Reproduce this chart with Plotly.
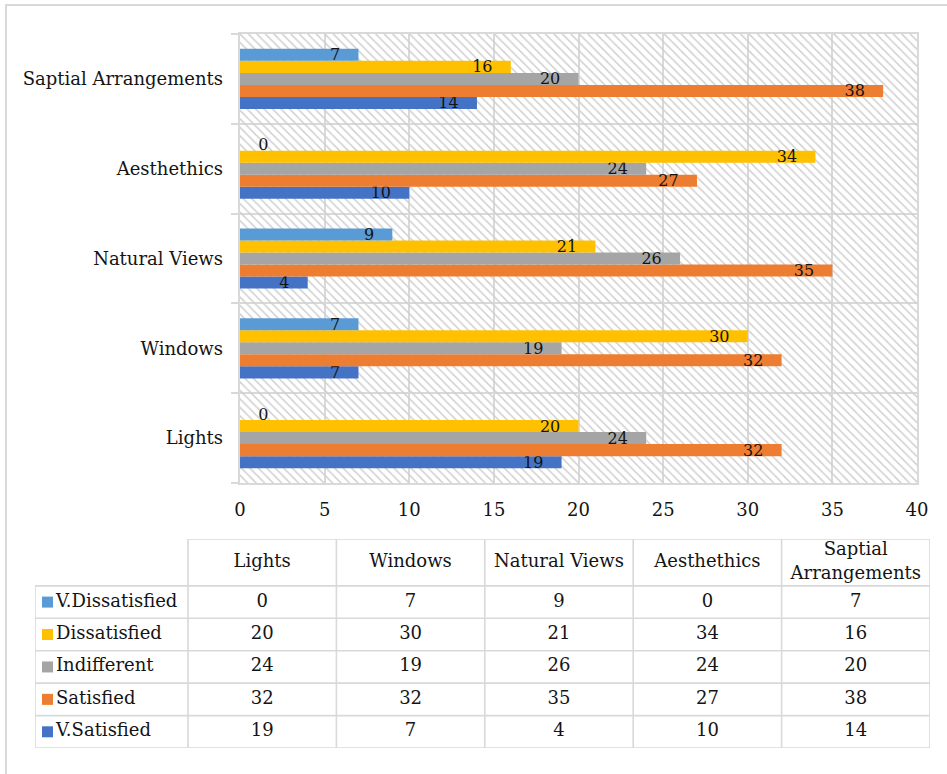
import plotly.graph_objects as go

# ---- data ----
categories = ["Lights", "Windows", "Natural Views", "Aesthethics", "Saptial Arrangements"]
header_labels = ["Lights", "Windows", "Natural Views", "Aesthethics", "Saptial<br>Arrangements"]
series_names = ["V.Dissatisfied", "Dissatisfied", "Indifferent", "Satisfied", "V.Satisfied"]
v_dissatisfied = [0, 7, 9, 0, 7]
dissatisfied = [20, 30, 21, 34, 16]
indifferent = [24, 19, 26, 24, 20]
satisfied = [32, 32, 35, 27, 38]
v_satisfied = [19, 7, 4, 10, 14]
x_ticks = [0, 5, 10, 15, 20, 25, 30, 35, 40]

series_values = [v_dissatisfied, dissatisfied, indifferent, satisfied, v_satisfied]
series_colors = ["#5B9BD5", "#FFC000", "#A5A5A5", "#ED7D31", "#4472C4"]

W, H = 947, 774
FONT = "DejaVu Serif"
TXT = "#141414"
GRID = "#d9d9d9"
NBSP = "\u00a0"


def px_x(p):
    return p / W


def px_y(p):
    return 1 - p / H


fig = go.Figure()

# hatched plot-area background on the base axes pair
fig.add_trace(go.Bar(
    x=[40], y=[2], width=[5], base=[0], orientation="h",
    xaxis="x", yaxis="y",
    marker=dict(color="rgba(0,0,0,0)", line=dict(width=0),
                pattern=dict(shape="\\", fgcolor="#cfcfcf", size=6, solidity=0.25,
                             fillmode="replace")),
    hoverinfo="skip", showlegend=False,
))

# grouped horizontal bars (first trace sits lowest within each group)
for name, vals, color in reversed(list(zip(series_names, series_values, series_colors))):
    texts = [f"{v}{NBSP * 3}" if v > 0 else f"{NBSP * 3}{v}" for v in vals]
    positions = ["inside" if v > 0 else "outside" for v in vals]
    fig.add_trace(go.Bar(
        name=name, x=vals, y=categories, orientation="h",
        xaxis="x2", yaxis="y2",
        marker=dict(color=color, line=dict(width=0)),
        text=texts, textposition=positions, insidetextanchor="end",
        constraintext="none", cliponaxis=False,
        textfont=dict(family=FONT, size=16, color=TXT),
        insidetextfont=dict(family=FONT, size=16, color=TXT),
        outsidetextfont=dict(family=FONT, size=16, color=TXT),
        showlegend=False,
    ))

# ---- data table ----
LEG_W = 153 / 148.4      # legend column width in data-column units
HEAD_H = 47 / 32.5       # header row height in data-row units
TFONT = dict(family=FONT, size=18, color=TXT)

# header text
fig.add_trace(go.Scatter(
    x=[j + 0.5 for j in range(len(categories))], y=[-HEAD_H / 2] * len(categories),
    text=header_labels, mode="text", textposition="middle center",
    textfont=TFONT, xaxis="x3", yaxis="y3", hoverinfo="skip", showlegend=False,
))

# cell values
for i, vals in enumerate(series_values):
    fig.add_trace(go.Scatter(
        x=[j + 0.5 for j in range(len(vals))], y=[i + 0.5] * len(vals),
        text=[str(v) for v in vals], mode="text", textposition="middle center",
        textfont=TFONT, xaxis="x3", yaxis="y3", hoverinfo="skip", showlegend=False,
    ))

# legend keys and series names in the first column
fig.add_trace(go.Scatter(
    x=[-LEG_W + 12.5 / 148.4] * len(series_names),
    y=[i + 0.5 for i in range(len(series_names))],
    mode="markers",
    marker=dict(symbol="square", size=11, color=series_colors, line=dict(width=0)),
    xaxis="x3", yaxis="y3", hoverinfo="skip", showlegend=False,
))
fig.add_trace(go.Scatter(
    x=[-LEG_W + 21 / 148.4] * len(series_names),
    y=[i + 0.5 for i in range(len(series_names))],
    text=series_names, mode="text", textposition="middle right",
    textfont=TFONT, xaxis="x3", yaxis="y3", hoverinfo="skip", showlegend=False,
))

shapes = []
line_style = dict(color=GRID, width=1.6)
ncol = len(categories)
nrow = len(series_names)
# horizontal rules
shapes.append(dict(type="line", xref="x3", yref="y3", x0=0, x1=ncol, y0=-HEAD_H, y1=-HEAD_H, line=line_style))
for r in range(nrow + 1):
    shapes.append(dict(type="line", xref="x3", yref="y3", x0=-LEG_W, x1=ncol, y0=r, y1=r, line=line_style))
# vertical rules
shapes.append(dict(type="line", xref="x3", yref="y3", x0=-LEG_W, x1=-LEG_W, y0=0, y1=nrow, line=line_style))
for c in range(ncol + 1):
    shapes.append(dict(type="line", xref="x3", yref="y3", x0=c, x1=c, y0=-HEAD_H, y1=nrow, line=line_style))

# chart frame
shapes.append(dict(type="rect", xref="paper", yref="paper",
                   x0=px_x(6), x1=1.05, y0=-0.05, y1=px_y(5),
                   line=dict(color=GRID, width=2), fillcolor="rgba(0,0,0,0)", layer="below"))

plot_x = [px_x(240), px_x(917)]
plot_y = [px_y(483), px_y(34)]

fig.update_layout(
    width=W, height=H,
    margin=dict(l=0, r=0, t=0, b=0, pad=0, autoexpand=False),
    paper_bgcolor="white", plot_bgcolor="white",
    barmode="group", bargap=0.33, bargroupgap=0,
    showlegend=False,
    font=dict(family=FONT, color=TXT),
    shapes=shapes,
    xaxis=dict(
        domain=plot_x, range=[0, 40], tickvals=x_ticks, fixedrange=True, automargin=False,
        showgrid=True, gridcolor=GRID, gridwidth=1.6, zeroline=False,
        showline=True, mirror=True, linecolor=GRID, linewidth=1.6,
        ticks="", tickfont=dict(family=FONT, size=18, color=TXT),
        ticklabelstandoff=10, anchor="y",
    ),
    yaxis=dict(
        domain=plot_y, range=[-0.5, 4.5], tickvals=[-0.5, 0.5, 1.5, 2.5, 3.5, 4.5],
        showgrid=True, gridcolor=GRID, gridwidth=1.6, zeroline=False,
        showline=True, mirror=True, linecolor=GRID, linewidth=1.6,
        ticks="outside", ticklen=7, tickcolor=GRID, tickwidth=1.6,
        showticklabels=False, fixedrange=True, anchor="x", automargin=False,
    ),
    xaxis2=dict(overlaying="x", range=[0, 40], visible=False, fixedrange=True,
                anchor="y2", automargin=False),
    yaxis2=dict(
        overlaying="y", type="category", categoryorder="array", categoryarray=categories,
        range=[-0.5, 4.5], showgrid=False, zeroline=False, showline=False, ticks="",
        tickfont=dict(family=FONT, size=18, color=TXT), ticklabelstandoff=16,
        side="left", fixedrange=True, anchor="x2", automargin=False,
    ),
    xaxis3=dict(domain=[px_x(35), px_x(930)], range=[-LEG_W, ncol], visible=False,
                fixedrange=True, anchor="y3", automargin=False),
    yaxis3=dict(domain=[px_y(748), px_y(539)], range=[nrow, -HEAD_H], visible=False,
                fixedrange=True, anchor="x3", automargin=False),
)

fig.write_html("out.html")
